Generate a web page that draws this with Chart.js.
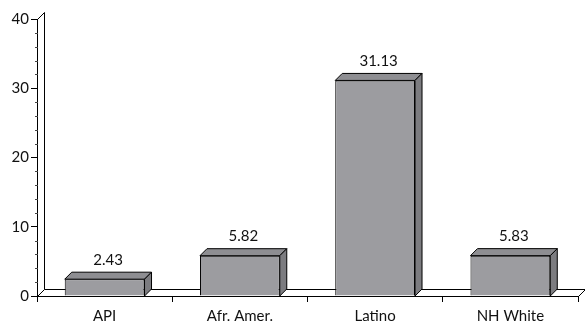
<!DOCTYPE html>
<html>
<head>
<meta charset="utf-8">
<script src="https://cdn.jsdelivr.net/npm/chart.js@4/dist/chart.umd.min.js"></script>
<style>
  html, body { margin: 0; padding: 0; background: #fff; }
  #wrap { width: 585px; height: 324px; }
</style>
</head>
<body>
<div id="wrap"><canvas id="chart" width="585" height="324"></canvas></div>
<script>
// values
const groups = ['API', 'Afr. Amer.', 'Latino', 'NH White'];
const rates = [2.43, 5.82, 31.13, 5.83];
const yTicks = [0, 10, 20, 30, 40];

const depth = 7;
const fontFam = 'Lato, "Open Sans", sans-serif';

// fake 3d: floor, back wall, tops and sides of the bars
const box3d = {
  id: 'box3d',
  beforeDatasetsDraw(chart) {
    const c = chart.ctx, a = chart.chartArea;
    c.save();
    c.strokeStyle = '#000';
    c.lineWidth = 1;
    c.beginPath();
    // back wall
    c.moveTo(a.left + 0.5, a.top + 0.5);
    c.lineTo(a.left + depth + 0.5, a.top - depth + 0.5);
    c.lineTo(a.left + depth + 0.5, a.bottom - depth + 0.5);
    c.lineTo(a.left + 0.5, a.bottom + 0.5);
    // floor
    c.moveTo(a.left + depth + 0.5, a.bottom - depth + 0.5);
    c.lineTo(a.right + depth + 0.5, a.bottom - depth + 0.5);
    c.lineTo(a.right + 0.5, a.bottom + 0.5);
    c.stroke();
    // minor ticks
    const ys = chart.scales.y;
    c.strokeStyle = '#444';
    c.beginPath();
    for (let v = 0; v <= 40; v += 2) {
      if (v % 10 === 0) continue;
      const py = Math.round(ys.getPixelForValue(v)) + 0.5;
      c.moveTo(a.left - 2, py);
      c.lineTo(a.left + 1, py);
    }
    c.stroke();
    c.restore();
  },
  afterDatasetsDraw(chart) {
    const c = chart.ctx;
    const base = chart.scales.y.getPixelForValue(0);
    c.save();
    c.strokeStyle = '#000';
    c.lineWidth = 1;
    chart.getDatasetMeta(0).data.forEach((bar, i) => {
      const l = bar.x - bar.width / 2, r = bar.x + bar.width / 2, t = bar.y;
      // top face
      c.beginPath();
      c.moveTo(l, t);
      c.lineTo(l + depth, t - depth);
      c.lineTo(r + depth, t - depth);
      c.lineTo(r, t);
      c.closePath();
      c.fillStyle = '#8e8e92';
      c.fill();
      c.stroke();
      // side face
      c.beginPath();
      c.moveTo(r, t);
      c.lineTo(r + depth, t - depth);
      c.lineTo(r + depth, base - depth);
      c.lineTo(r, base);
      c.closePath();
      c.fillStyle = '#7c7c80';
      c.fill();
      c.stroke();
      // value label
      c.fillStyle = '#111';
      c.font = '15px ' + fontFam;
      c.textAlign = 'center';
      c.textBaseline = 'bottom';
      c.fillText(rates[i].toFixed(2), bar.x + depth / 2, t - depth - 5);
    });
    c.restore();
  }
};

new Chart(document.getElementById('chart'), {
  type: 'bar',
  data: {
    labels: groups,
    datasets: [{
      data: rates,
      backgroundColor: '#9c9ca0',
      borderColor: '#000',
      borderWidth: 1,
      barPercentage: 0.59,
      categoryPercentage: 1
    }]
  },
  options: {
    responsive: false,
    animation: false,
    layout: { padding: { left: 0, top: 19, right: 7, bottom: 0 } },
    plugins: { legend: { display: false }, tooltip: { enabled: false } },
    scales: {
      x: {
        grid: { drawOnChartArea: false, tickLength: 6, color: '#000', offset: true },
        border: { color: '#000' },
        ticks: { color: '#111', font: { family: fontFam, size: 15 }, padding: 5 },
        afterFit(s) { s.height = 28; }
      },
      y: {
        min: 0, max: 40,
        afterBuildTicks(s) { s.ticks = yTicks.map(v => ({ value: v })); },
        grid: { drawOnChartArea: false, tickLength: 6, color: '#000' },
        border: { color: '#000' },
        ticks: { color: '#111', font: { family: fontFam, size: 15 }, padding: 2 },
        afterFit(s) { s.width = 37; }
      }
    }
  },
  plugins: [box3d]
});
</script>
</body>
</html>
